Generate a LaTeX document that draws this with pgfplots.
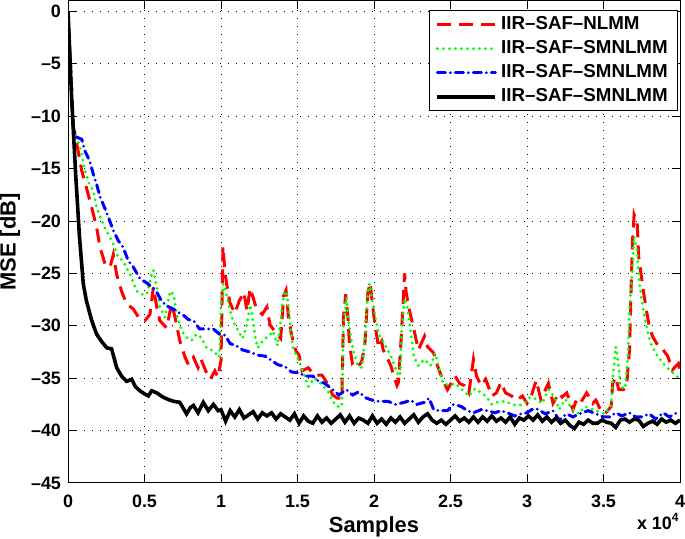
\documentclass[border=0pt]{standalone}
\usepackage{fontspec}
\setmainfont{Liberation Sans}
\usepackage{pgfplots}
\pgfplotsset{compat=1.18}
\begin{document}
\begin{tikzpicture}
\begin{axis}[name=ax, scale only axis, width=306bp, height=241bp,
  xmin=0, xmax=4, ymin=-45, ymax=1,
  xtick={0,0.5,1,1.5,2,2.5,3,3.5,4},
  xticklabels={0,0.5,1,1.5,2,2.5,3,3.5,4},
  ytick={-45,-40,-35,-30,-25,-20,-15,-10,-5,0},
  yticklabels={{\textendash45},{\textendash40},{\textendash35},{\textendash30},{\textendash25},{\textendash20},{\textendash15},{\textendash10},{\textendash5},{0}},
  ticklabel style={font=\fontsize{9}{10}\selectfont\bfseries},
  xticklabel style={yshift=-2.5bp},
  tick align=inside, major tick length=4bp,
  tick style={black, line width=0.5bp},
  axis line style={black, line width=0.5bp},
  grid=major,
  major grid style={black, line width=0.5bp, dash pattern=on 0.6bp off 3.4bp},
  xlabel={Samples}, ylabel={MSE [dB]},
  label style={font=\fontsize{11}{13}\selectfont\bfseries},
  xlabel style={at={(axis description cs:0.5,-0.09)}, anchor=center},
  ylabel style={at={(axis description cs:-0.0948,0.5)}, anchor=center},
  legend cell align=left,
  legend image code/.code={\draw[#1] (0bp,0bp) -- (29bp,0bp);},
  legend style={at={(0.997,0.981)}, anchor=north east, draw=black, line width=0.5bp,
    font=\fontsize{9.4}{11}\selectfont\bfseries, row sep=0bp, inner xsep=3bp, inner ysep=1bp},
]
\addplot[color=red, line width=1.5bp, dash pattern=on 7bp off 4bp] coordinates {
(0,0) (0.035,-11) (0.057,-12.6) (0.09,-15.2) (0.12,-16.8) (0.155,-18.7) (0.187,-20.6)
(0.209,-22.5) (0.242,-24.1) (0.275,-24.4) (0.296,-23.2) (0.318,-25.1) (0.35,-26.7)
(0.383,-27.9) (0.427,-28.4) (0.47,-29.4) (0.503,-29.5) (0.536,-28.9) (0.558,-26.3)
(0.58,-28.2) (0.6,-29.5) (0.645,-30.2) (0.677,-27.9) (0.7,-29.2) (0.73,-31.4)
(0.765,-33.0) (0.787,-33.7) (0.82,-33.0) (0.85,-34.0) (0.87,-33.2) (0.9,-34.3)
(0.93,-35.1) (0.96,-34.3) (0.98,-34.9) (1.0,-33.3) (1.013,-22.4) (1.026,-24.9)
(1.037,-26.0) (1.058,-27.8) (1.09,-28.8) (1.12,-27.6) (1.15,-26.8) (1.17,-28.6)
(1.19,-26.4) (1.21,-27.3) (1.23,-28.3) (1.27,-28.9) (1.3,-28.2) (1.32,-29.9)
(1.35,-30.5) (1.39,-31.2) (1.41,-27.1) (1.425,-26.6) (1.44,-29.0) (1.46,-30.8)
(1.49,-32.4) (1.51,-32.8) (1.53,-34.3) (1.57,-34.0) (1.61,-34.7) (1.66,-34.7)
(1.7,-35.6) (1.73,-36.6) (1.76,-36.9) (1.79,-36.9) (1.8,-29.3) (1.815,-27.0)
(1.83,-29.3) (1.84,-31.8) (1.86,-33.7) (1.89,-34.0) (1.92,-33.4) (1.94,-31.8)
(1.96,-26.8) (1.975,-25.9) (1.99,-28.0) (2.01,-30.2) (2.03,-32.1) (2.05,-31.5)
(2.06,-32.3) (2.08,-32.9) (2.11,-33.8) (2.13,-34.8) (2.15,-35.7) (2.16,-35.4)
(2.18,-30.6) (2.2,-25.0) (2.21,-26.8) (2.23,-28.4) (2.26,-30.3) (2.29,-32.3)
(2.33,-31.0) (2.35,-32.0) (2.39,-32.6) (2.41,-33.6) (2.45,-35.2) (2.48,-36.1)
(2.53,-34.8) (2.56,-35.5) (2.59,-35.7) (2.62,-36.4) (2.65,-33.2) (2.67,-34.8)
(2.7,-35.7) (2.73,-35.1) (2.77,-36.7) (2.8,-36.4) (2.83,-35.4) (2.86,-36.4)
(2.9,-36.7) (2.93,-37.1) (2.97,-36.7) (3.0,-37.4) (3.03,-36.6) (3.06,-35.2)
(3.09,-37.0) (3.14,-35.5) (3.17,-37.4) (3.21,-36.4) (3.23,-36.8) (3.26,-36.4)
(3.3,-38.0) (3.33,-36.8) (3.36,-37.1) (3.39,-36.4) (3.43,-37.4) (3.45,-37.1)
(3.48,-38.0) (3.51,-38.4) (3.55,-37.7) (3.56,-35.5) (3.58,-34.9) (3.6,-36.1)
(3.63,-36.1) (3.65,-35.8) (3.67,-32.3) (3.68,-26.6) (3.69,-21.8) (3.7,-19.4)
(3.72,-20.2) (3.73,-23.4) (3.76,-26.6) (3.78,-28.5) (3.8,-30.1) (3.82,-31.0)
(3.86,-32.0) (3.89,-32.3) (3.92,-32.9) (3.95,-34.2) (3.99,-33.6) (4.0,-34.2)
};
\addlegendentry{IIR\textendash SAF\textendash NLMM}
\addplot[color={rgb,1:red,0;green,1;blue,0}, line width=1.6bp, line cap=round, dash pattern=on 0bp off 3bp] coordinates {
(0,0) (0.035,-11) (0.07,-12.6) (0.09,-13.6) (0.11,-15.2) (0.14,-16.5) (0.165,-17.1)
(0.187,-18.7) (0.21,-19.6) (0.24,-20.6) (0.275,-21.6) (0.296,-22.2) (0.33,-23.5)
(0.36,-23.8) (0.405,-25.1) (0.45,-26.7) (0.48,-27.0) (0.514,-27.0) (0.547,-25.1)
(0.558,-24.7) (0.58,-26.3) (0.6,-28.2) (0.634,-29.2) (0.667,-26.7) (0.69,-27.0)
(0.71,-28.9) (0.743,-30.5) (0.775,-31.1) (0.808,-31.4) (0.84,-30.8) (0.87,-31.1)
(0.906,-32.1) (0.95,-32.4) (0.99,-33.0) (1.0,-28.0) (1.015,-26.0) (1.026,-26.4)
(1.05,-28.0) (1.08,-29.6) (1.11,-30.4) (1.14,-31.2) (1.17,-29.9) (1.19,-28.0)
(1.2,-28.6) (1.22,-30.8) (1.24,-32.1) (1.28,-31.3) (1.31,-31.0) (1.34,-30.5)
(1.37,-31.9) (1.41,-27.0) (1.43,-26.7) (1.45,-29.6) (1.47,-32.1) (1.51,-33.4)
(1.54,-34.5) (1.57,-35.8) (1.61,-35.0) (1.66,-35.6) (1.7,-36.3) (1.73,-37.2)
(1.76,-37.7) (1.79,-37.7) (1.8,-30.2) (1.82,-27.3) (1.83,-29.2) (1.86,-32.1)
(1.89,-33.7) (1.92,-34.0) (1.94,-31.2) (1.96,-26.7) (1.97,-26.0) (1.99,-27.7)
(2.01,-29.2) (2.03,-30.8) (2.06,-31.5) (2.09,-32.3) (2.12,-33.2) (2.15,-34.5)
(2.17,-34.8) (2.18,-30.6) (2.2,-27.4) (2.22,-28.4) (2.24,-30.6) (2.26,-32.9)
(2.29,-33.8) (2.33,-33.2) (2.37,-33.8) (2.4,-32.6) (2.42,-33.8) (2.45,-35.4)
(2.49,-35.7) (2.53,-35.5) (2.57,-36.0) (2.62,-36.7) (2.66,-36.0) (2.7,-36.4)
(2.73,-36.7) (2.77,-37.5) (2.8,-37.3) (2.86,-37.2) (2.9,-37.5) (2.95,-37.6)
(2.99,-37.3) (3.02,-36.8) (3.06,-37.0) (3.1,-37.4) (3.14,-36.1) (3.18,-36.8)
(3.21,-38.0) (3.25,-37.0) (3.3,-38.0) (3.34,-38.4) (3.38,-37.7) (3.43,-38.0)
(3.47,-38.2) (3.51,-38.4) (3.55,-37.7) (3.56,-35.2) (3.58,-32.0) (3.6,-33.9)
(3.61,-35.8) (3.64,-36.0) (3.66,-33.0) (3.67,-28.2) (3.69,-24.4) (3.7,-21.5)
(3.72,-22.8) (3.73,-25.3) (3.75,-27.6) (3.77,-29.2) (3.79,-30.7) (3.81,-31.7)
(3.84,-32.6) (3.89,-33.6) (3.93,-34.2) (3.98,-34.8) (4.0,-35.3)
};
\addlegendentry{IIR\textendash SAF\textendash SMNLMM}
\addplot[color=blue, line width=1.5bp, line cap=round, dash pattern=on 4bp off 2.5bp on 0bp off 2.5bp] coordinates {
(0,0) (0.035,-11) (0.057,-12.0) (0.09,-12.2) (0.11,-13.3) (0.14,-14.2) (0.165,-15.5)
(0.187,-16.5) (0.21,-17.7) (0.23,-18.4) (0.263,-19.6) (0.296,-20.9) (0.33,-21.9)
(0.36,-22.5) (0.394,-23.8) (0.427,-24.4) (0.47,-25.5) (0.514,-25.9) (0.547,-26.3)
(0.58,-26.8) (0.61,-27.6) (0.645,-28.1) (0.688,-28.4) (0.72,-28.7) (0.755,-29.0)
(0.787,-29.4) (0.82,-29.5) (0.86,-30.3) (0.9,-30.3) (0.95,-30.3) (0.99,-30.8)
(1.026,-30.9) (1.06,-31.7) (1.1,-31.9) (1.14,-32.3) (1.19,-32.5) (1.24,-32.8)
(1.29,-32.9) (1.33,-33.3) (1.37,-33.7) (1.42,-33.9) (1.46,-34.4) (1.51,-34.5)
(1.55,-34.8) (1.6,-34.8) (1.64,-35.3) (1.68,-35.5) (1.73,-36.1) (1.77,-36.6)
(1.82,-36.1) (1.86,-36.6) (1.9,-36.3) (1.95,-36.9) (1.99,-37.1) (2.03,-37.2)
(2.09,-37.2) (2.14,-37.5) (2.2,-37.3) (2.24,-37.1) (2.28,-37.5) (2.33,-37.3)
(2.36,-36.9) (2.39,-38.0) (2.43,-38.1) (2.48,-38.1) (2.52,-37.5) (2.57,-37.7)
(2.61,-38.1) (2.65,-38.3) (2.7,-38.0) (2.74,-38.1) (2.79,-38.3) (2.83,-38.1)
(2.87,-38.3) (2.92,-38.6) (2.96,-38.4) (3.0,-38.3) (3.03,-38.0) (3.06,-37.9)
(3.12,-38.4) (3.17,-38.1) (3.21,-39.0) (3.26,-38.4) (3.3,-38.7) (3.34,-38.4)
(3.4,-38.1) (3.45,-38.4) (3.5,-38.7) (3.54,-38.7) (3.58,-38.3) (3.62,-38.6)
(3.67,-38.3) (3.71,-38.7) (3.75,-38.7) (3.8,-38.4) (3.84,-38.9) (3.89,-38.3)
(3.93,-38.7) (3.98,-38.3) (4.0,-38.4)
};
\addlegendentry{IIR\textendash SAF\textendash SMNLMM}
\addplot[color=black, line width=1.8bp] coordinates {
(0,0) (0.024,-8.4) (0.05,-15.5) (0.075,-21.5) (0.1,-26.0) (0.12,-27.6) (0.155,-29.5)
(0.187,-30.8) (0.22,-31.5) (0.253,-32.1) (0.285,-32.2) (0.318,-34.0) (0.35,-34.8)
(0.383,-35.3) (0.416,-35.1) (0.44,-35.8) (0.47,-36.2) (0.5,-36.5) (0.525,-36.7)
(0.547,-36.2) (0.58,-36.4) (0.62,-36.8) (0.65,-37.0) (0.688,-37.2) (0.73,-37.3)
(0.775,-38.4) (0.8,-37.8) (0.82,-37.6) (0.85,-38.3) (0.884,-37.3) (0.917,-38.1)
(0.95,-37.5) (0.982,-38.1) (1.0,-38.0) (1.03,-39.1) (1.06,-38.1) (1.09,-38.7)
(1.12,-38.0) (1.15,-38.8) (1.18,-38.5) (1.21,-38.2) (1.24,-38.9) (1.27,-38.3)
(1.3,-38.6) (1.33,-38.3) (1.36,-38.9) (1.39,-38.4) (1.42,-38.7) (1.45,-39.0)
(1.48,-38.4) (1.51,-39.3) (1.54,-38.6) (1.57,-39.1) (1.6,-39.3) (1.63,-38.6)
(1.66,-39.2) (1.69,-38.8) (1.72,-39.3) (1.75,-38.9) (1.78,-38.5) (1.81,-39.2)
(1.84,-38.6) (1.87,-39.3) (1.9,-38.8) (1.93,-39.0) (1.96,-39.3) (1.99,-38.6)
(2.02,-39.3) (2.05,-38.9) (2.08,-39.4) (2.11,-38.8) (2.14,-39.2) (2.17,-38.7)
(2.2,-39.3) (2.23,-38.9) (2.26,-38.5) (2.29,-39.2) (2.32,-38.7) (2.35,-38.4)
(2.38,-39.0) (2.41,-39.3) (2.44,-39.0) (2.47,-39.4) (2.5,-39.0) (2.53,-38.6)
(2.56,-39.1) (2.59,-38.8) (2.62,-39.2) (2.65,-38.7) (2.68,-39.2) (2.71,-38.7)
(2.74,-39.1) (2.77,-38.6) (2.8,-39.1) (2.83,-38.8) (2.86,-39.2) (2.89,-38.7)
(2.92,-39.4) (2.95,-38.8) (2.98,-39.0) (3.01,-38.6) (3.04,-39.0) (3.07,-38.5)
(3.1,-39.1) (3.13,-38.7) (3.16,-39.2) (3.19,-38.8) (3.22,-39.3) (3.25,-39.0)
(3.28,-39.5) (3.31,-39.8) (3.34,-39.2) (3.37,-39.4) (3.4,-39.0) (3.43,-39.3)
(3.46,-39.3) (3.49,-39.0) (3.52,-39.2) (3.55,-39.3) (3.58,-39.7) (3.61,-39.0)
(3.64,-38.9) (3.67,-39.2) (3.7,-38.9) (3.73,-39.0) (3.76,-39.6) (3.79,-39.3)
(3.82,-39.1) (3.85,-39.4) (3.88,-38.9) (3.91,-39.2) (3.94,-39.0) (3.97,-39.3)
(4.0,-39.0)
};
\addlegendentry{IIR\textendash SAF\textendash SMNLMM}
\end{axis}
\node[anchor=north east, inner sep=0pt, font=\fontsize{9}{10}\selectfont\bfseries] at ([yshift=-15bp]ax.south east) {x 10\textsuperscript{4}};
\pgfresetboundingbox
\path[use as bounding box] ([xshift=-34bp,yshift=-28bp]ax.south west) rectangle ([xshift=2.5bp,yshift=0.5bp]ax.north east);
\end{tikzpicture}
\end{document}
